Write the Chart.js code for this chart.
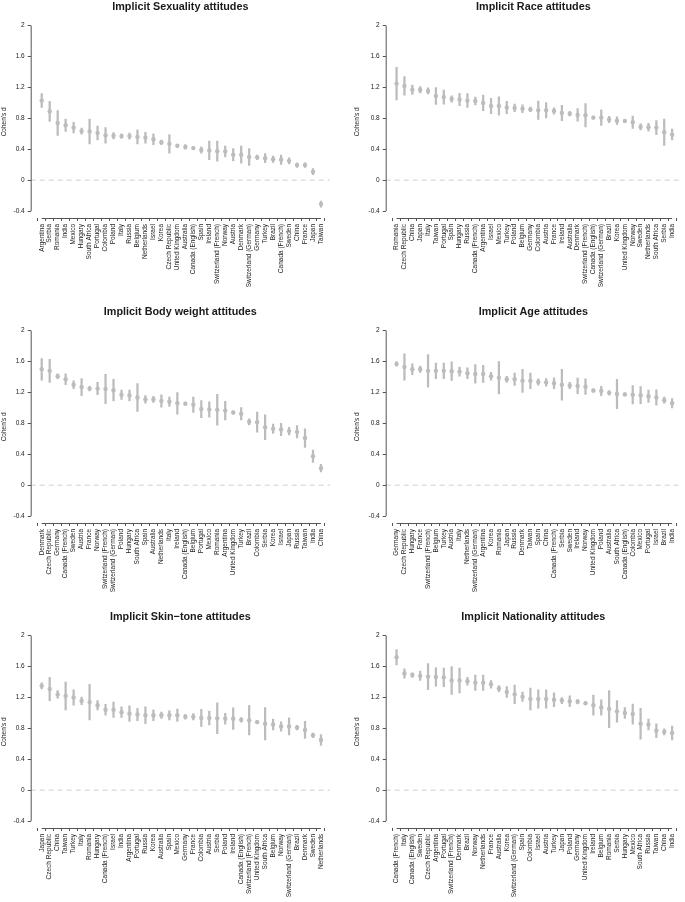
<!DOCTYPE html>
<html>
<head>
<meta charset="utf-8">
<script src="https://cdn.jsdelivr.net/npm/chart.js@4"></script>
<style>
  html, body { margin: 0; padding: 0; background: #fff; }
  #wrap { position: relative; width: 685px; height: 902px; overflow: hidden; }
  canvas { position: absolute; }
</style>
</head>
<body>
<div id="wrap">
  <canvas id="c0" width="340" height="300" style="left:0;top:0"></canvas>
  <canvas id="c1" width="345" height="300" style="left:340px;top:0"></canvas>
  <canvas id="c2" width="340" height="300" style="left:0;top:305px"></canvas>
  <canvas id="c3" width="345" height="300" style="left:340px;top:305px"></canvas>
  <canvas id="c4" width="340" height="292" style="left:0;top:610px"></canvas>
  <canvas id="c5" width="345" height="292" style="left:340px;top:610px"></canvas>
</div>
<script>
// ---- data (Cohen's d and half width of the interval) ----
var yTicks = [-0.4, 0, 0.4, 0.8, 1.2, 1.6, 2];

var sexCountries = ['Argentina', 'Serbia', 'Romania', 'India', 'Mexico', 'Hungary', 'South Africa', 'Portugal', 'Colombia', 'Poland', 'Italy', 'Russia', 'Belgium', 'Netherlands', 'Israel', 'Korea', 'Czech Republic', 'United Kingdom', 'Australia', 'Canada (English)', 'Spain', 'Ireland', 'Switzerland (French)', 'Norway', 'Austria', 'Denmark', 'Switzerland (German)', 'Germany', 'Turkey', 'Brazil', 'Canada (French)', 'Sweden', 'China', 'France', 'Japan', 'Taiwan'];
var sexD = [1.03, 0.89, 0.74, 0.71, 0.68, 0.635, 0.63, 0.61, 0.58, 0.575, 0.57, 0.57, 0.56, 0.55, 0.53, 0.49, 0.47, 0.445, 0.43, 0.415, 0.39, 0.385, 0.375, 0.37, 0.33, 0.33, 0.30, 0.295, 0.285, 0.27, 0.265, 0.25, 0.195, 0.195, 0.11, -0.31];
var sexErr = [0.09, 0.13, 0.16, 0.08, 0.07, 0.04, 0.16, 0.09, 0.10, 0.04, 0.03, 0.04, 0.09, 0.07, 0.07, 0.03, 0.12, 0.02, 0.03, 0.02, 0.04, 0.12, 0.13, 0.07, 0.08, 0.11, 0.11, 0.03, 0.06, 0.04, 0.06, 0.04, 0.03, 0.03, 0.04, 0.04];

var raceCountries = ['Romania', 'Czech Republic', 'China', 'Japan', 'Italy', 'Taiwan', 'Portugal', 'Spain', 'Hungary', 'Russia', 'Canada (French)', 'Argentina', 'Israel', 'Mexico', 'Turkey', 'Poland', 'Belgium', 'Germany', 'Colombia', 'Austria', 'France', 'Ireland', 'Australia', 'Denmark', 'Switzerland (French)', 'Canada (English)', 'Switzerland (German)', 'Brazil', 'Korea', 'United Kingdom', 'Norway', 'Sweden', 'Netherlands', 'South Africa', 'Serbia', 'India'];
var raceD = [1.25, 1.22, 1.17, 1.17, 1.155, 1.09, 1.075, 1.05, 1.045, 1.03, 1.025, 1.0, 0.96, 0.96, 0.94, 0.935, 0.925, 0.915, 0.905, 0.905, 0.895, 0.87, 0.86, 0.845, 0.84, 0.81, 0.81, 0.785, 0.77, 0.765, 0.75, 0.69, 0.685, 0.68, 0.62, 0.59];
var raceErr = [0.21, 0.12, 0.06, 0.04, 0.04, 0.11, 0.09, 0.04, 0.08, 0.09, 0.05, 0.10, 0.10, 0.12, 0.08, 0.05, 0.05, 0.03, 0.12, 0.10, 0.04, 0.10, 0.03, 0.08, 0.15, 0.02, 0.10, 0.04, 0.05, 0.02, 0.08, 0.04, 0.05, 0.09, 0.17, 0.07];

var weightCountries = ['Denmark', 'Czech Republic', 'Germany', 'Canada (French)', 'Sweden', 'Austria', 'France', 'Norway', 'Switzerland (French)', 'Switzerland (German)', 'Poland', 'Hungary', 'South Africa', 'Spain', 'Australia', 'Netherlands', 'Italy', 'Ireland', 'Canada (English)', 'Belgium', 'Portugal', 'Mexico', 'Romania', 'Argentina', 'United Kingdom', 'Turkey', 'Brazil', 'Colombia', 'Serbia', 'Korea', 'Israel', 'Japan', 'Russia', 'Taiwan', 'India', 'China'];
var weightD = [1.50, 1.48, 1.41, 1.37, 1.30, 1.27, 1.25, 1.25, 1.245, 1.23, 1.17, 1.16, 1.135, 1.11, 1.11, 1.09, 1.08, 1.06, 1.055, 1.04, 0.985, 0.98, 0.975, 0.965, 0.94, 0.925, 0.82, 0.815, 0.75, 0.73, 0.72, 0.70, 0.69, 0.61, 0.375, 0.22];
var weightErr = [0.14, 0.15, 0.03, 0.07, 0.05, 0.11, 0.03, 0.08, 0.19, 0.14, 0.06, 0.07, 0.18, 0.05, 0.04, 0.08, 0.06, 0.14, 0.02, 0.10, 0.11, 0.10, 0.20, 0.12, 0.02, 0.08, 0.04, 0.13, 0.16, 0.06, 0.08, 0.05, 0.08, 0.12, 0.08, 0.05];

var ageCountries = ['Germany', 'Czech Republic', 'Hungary', 'France', 'Switzerland (French)', 'Belgium', 'Turkey', 'Austria', 'Italy', 'Netherlands', 'Switzerland (German)', 'Argentina', 'Korea', 'Romania', 'Japan', 'Russia', 'Denmark', 'Taiwan', 'Spain', 'China', 'Canada (French)', 'Serbia', 'Sweden', 'Ireland', 'Norway', 'United Kingdom', 'Poland', 'Australia', 'South Africa', 'Canada (English)', 'Colombia', 'Mexico', 'Portugal', 'Israel', 'Brazil', 'India'];
var ageD = [1.57, 1.53, 1.50, 1.50, 1.48, 1.48, 1.48, 1.475, 1.47, 1.45, 1.44, 1.44, 1.41, 1.39, 1.37, 1.37, 1.35, 1.35, 1.335, 1.33, 1.32, 1.30, 1.29, 1.285, 1.275, 1.225, 1.22, 1.195, 1.18, 1.175, 1.17, 1.165, 1.15, 1.135, 1.10, 1.06];
var ageErr = [0.03, 0.17, 0.07, 0.04, 0.21, 0.10, 0.10, 0.12, 0.06, 0.07, 0.12, 0.11, 0.05, 0.21, 0.04, 0.08, 0.15, 0.10, 0.04, 0.05, 0.07, 0.20, 0.04, 0.10, 0.10, 0.02, 0.06, 0.03, 0.19, 0.02, 0.12, 0.11, 0.08, 0.10, 0.04, 0.06];

var skinCountries = ['Japan', 'Czech Republic', 'China', 'Taiwan', 'Turkey', 'Italy', 'Romania', 'Hungary', 'Canada (French)', 'Israel', 'India', 'Argentina', 'Portugal', 'Russia', 'Korea', 'Australia', 'Spain', 'Mexico', 'Germany', 'France', 'Colombia', 'Austria', 'Serbia', 'Poland', 'Ireland', 'Canada (English)', 'Switzerland (French)', 'United Kingdom', 'South Africa', 'Belgium', 'Norway', 'Switzerland (German)', 'Brazil', 'Denmark', 'Sweden', 'Netherlands'];
var skinD = [1.35, 1.31, 1.24, 1.22, 1.20, 1.155, 1.14, 1.10, 1.04, 1.04, 1.01, 0.99, 0.98, 0.97, 0.97, 0.97, 0.97, 0.97, 0.95, 0.95, 0.935, 0.935, 0.93, 0.925, 0.925, 0.91, 0.905, 0.88, 0.86, 0.85, 0.825, 0.825, 0.81, 0.78, 0.71, 0.65];
var skinErr = [0.04, 0.15, 0.05, 0.18, 0.10, 0.05, 0.23, 0.06, 0.07, 0.10, 0.07, 0.10, 0.08, 0.11, 0.07, 0.04, 0.06, 0.08, 0.03, 0.04, 0.11, 0.09, 0.20, 0.07, 0.14, 0.03, 0.19, 0.02, 0.21, 0.07, 0.06, 0.11, 0.03, 0.11, 0.03, 0.07];

var natCountries = ['Canada (French)', 'Italy', 'Canada (English)', 'Sweden', 'Czech Republic', 'Argentina', 'Portugal', 'Switzerland (French)', 'Denmark', 'Brazil', 'Norway', 'Netherlands', 'France', 'Australia', 'Korea', 'Switzerland (German)', 'Spain', 'Colombia', 'Israel', 'Austria', 'Turkey', 'Japan', 'Poland', 'Germany', 'United Kingdom', 'Ireland', 'Belgium', 'Romania', 'Serbia', 'Hungary', 'Mexico', 'South Africa', 'Russia', 'Taiwan', 'China', 'India'];
var natD = [1.72, 1.51, 1.49, 1.48, 1.47, 1.465, 1.46, 1.42, 1.42, 1.41, 1.39, 1.39, 1.37, 1.315, 1.27, 1.24, 1.21, 1.18, 1.18, 1.18, 1.17, 1.16, 1.15, 1.145, 1.125, 1.10, 1.07, 1.05, 1.02, 1.0, 0.985, 0.86, 0.85, 0.77, 0.755, 0.74];
var natErr = [0.10, 0.06, 0.03, 0.06, 0.17, 0.12, 0.12, 0.18, 0.16, 0.05, 0.10, 0.10, 0.05, 0.04, 0.07, 0.12, 0.06, 0.14, 0.12, 0.12, 0.09, 0.04, 0.07, 0.03, 0.02, 0.13, 0.10, 0.24, 0.14, 0.07, 0.13, 0.20, 0.07, 0.09, 0.04, 0.09];

var panels = [
  { id: 'c0', title: 'Implicit Sexuality attitudes', countries: sexCountries, d: sexD, err: sexErr, right: false },
  { id: 'c1', title: 'Implicit Race attitudes', countries: raceCountries, d: raceD, err: raceErr, right: true },
  { id: 'c2', title: 'Implicit Body weight attitudes', countries: weightCountries, d: weightD, err: weightErr, right: false },
  { id: 'c3', title: 'Implicit Age attitudes', countries: ageCountries, d: ageD, err: ageErr, right: true },
  { id: 'c4', title: 'Implicit Skin\u2212tone attitudes', countries: skinCountries, d: skinD, err: skinErr, right: false },
  { id: 'c5', title: 'Implicit Nationality attitudes', countries: natCountries, d: natD, err: natErr, right: true }
];

var FONT = "'Liberation Sans', Arial, Helvetica, sans-serif";
var AXIS = '#555';
var MARK = '#bcbcbc';
var X_MIN = -1.38, X_MAX = 36.13;

// R-style axes: lines only between the end ticks
var rAxes = {
  id: 'rAxes',
  afterDraw: function (chart) {
    var ctx = chart.ctx, x = chart.scales.x, y = chart.scales.y;
    var n = chart.config.options.plugins.rAxes.n;
    var bottom = chart.chartArea.bottom, left = chart.chartArea.left;
    ctx.save();
    ctx.strokeStyle = AXIS;
    ctx.lineWidth = 1;
    ctx.beginPath();
    ctx.moveTo(left + 0.5, y.getPixelForValue(yTicks[0]));
    ctx.lineTo(left + 0.5, y.getPixelForValue(yTicks[yTicks.length - 1]));
    ctx.moveTo(x.getPixelForValue(0), bottom + 0.5);
    ctx.lineTo(x.getPixelForValue(n - 1), bottom + 0.5);
    ctx.stroke();
    ctx.restore();
  }
};

panels.forEach(function (p) {
  var canvas = document.getElementById(p.id);
  var H = canvas.height;
  var bars = p.d.map(function (v, i) { return { x: i, y: [v - p.err[i], v + p.err[i]] }; });
  var pts = p.d.map(function (v, i) { return { x: i, y: v }; });

  new Chart(canvas.getContext('2d'), {
    type: 'scatter',
    data: {
      datasets: [
        {
          type: 'line',
          data: [{ x: X_MIN, y: 0 }, { x: X_MAX, y: 0 }],
          borderColor: '#cfcfcf',
          borderWidth: 1,
          borderDash: [5, 4],
          pointRadius: 0,
          order: 3
        },
        {
          type: 'bar',
          data: bars,
          backgroundColor: MARK,
          borderWidth: 0,
          barThickness: 1.6,
          grouped: false,
          order: 2
        },
        {
          type: 'scatter',
          data: pts,
          backgroundColor: MARK,
          borderWidth: 0,
          pointRadius: 2.2,
          order: 1
        }
      ]
    },
    options: {
      responsive: false,
      animation: false,
      devicePixelRatio: 1,
      layout: { padding: { left: 0, right: p.right ? 0 : 10, top: 0, bottom: 0 } },
      plugins: {
        legend: { display: false },
        tooltip: { enabled: false },
        rAxes: { n: p.countries.length },
        title: {
          display: true,
          text: p.title,
          fullSize: false,
          color: '#1a1a1a',
          font: { family: FONT, size: 10.8, weight: 'bold', lineHeight: 1.2 },
          padding: { top: 1, bottom: 11.7 }
        }
      },
      scales: {
        x: {
          type: 'linear',
          min: X_MIN,
          max: X_MAX,
          offset: false,
          afterBuildTicks: function (s) {
            s.ticks = p.countries.map(function (c, i) { return { value: i }; });
          },
          afterFit: function (s) { s.height = H - 218; },
          border: { display: false },
          grid: { drawOnChartArea: false, drawTicks: true, tickLength: 3, color: AXIS, lineWidth: 1 },
          ticks: {
            autoSkip: false,
            minRotation: 90,
            maxRotation: 90,
            padding: 3,
            color: '#222',
            font: { family: FONT, size: 6.5 },
            callback: function (v) { return p.countries[v]; }
          }
        },
        y: {
          type: 'linear',
          min: -0.49,
          max: 2,
          afterBuildTicks: function (s) {
            s.ticks = yTicks.map(function (v) { return { value: v }; });
          },
          afterFit: function (s) { s.width = p.right ? 45.7 : 30.7; },
          border: { display: false },
          grid: { drawOnChartArea: false, drawTicks: true, tickLength: 3, color: AXIS, lineWidth: 1 },
          title: {
            display: true,
            text: "Cohen's d",
            color: '#222',
            font: { family: FONT, size: 6.5 },
            padding: { top: p.right ? 13 : 0, bottom: 0 }
          },
          ticks: {
            padding: 3,
            color: '#222',
            font: { family: FONT, size: 6.5 },
            callback: function (v) { return String(v); }
          }
        }
      }
    },
    plugins: [rAxes]
  });
});
</script>
</body>
</html>
